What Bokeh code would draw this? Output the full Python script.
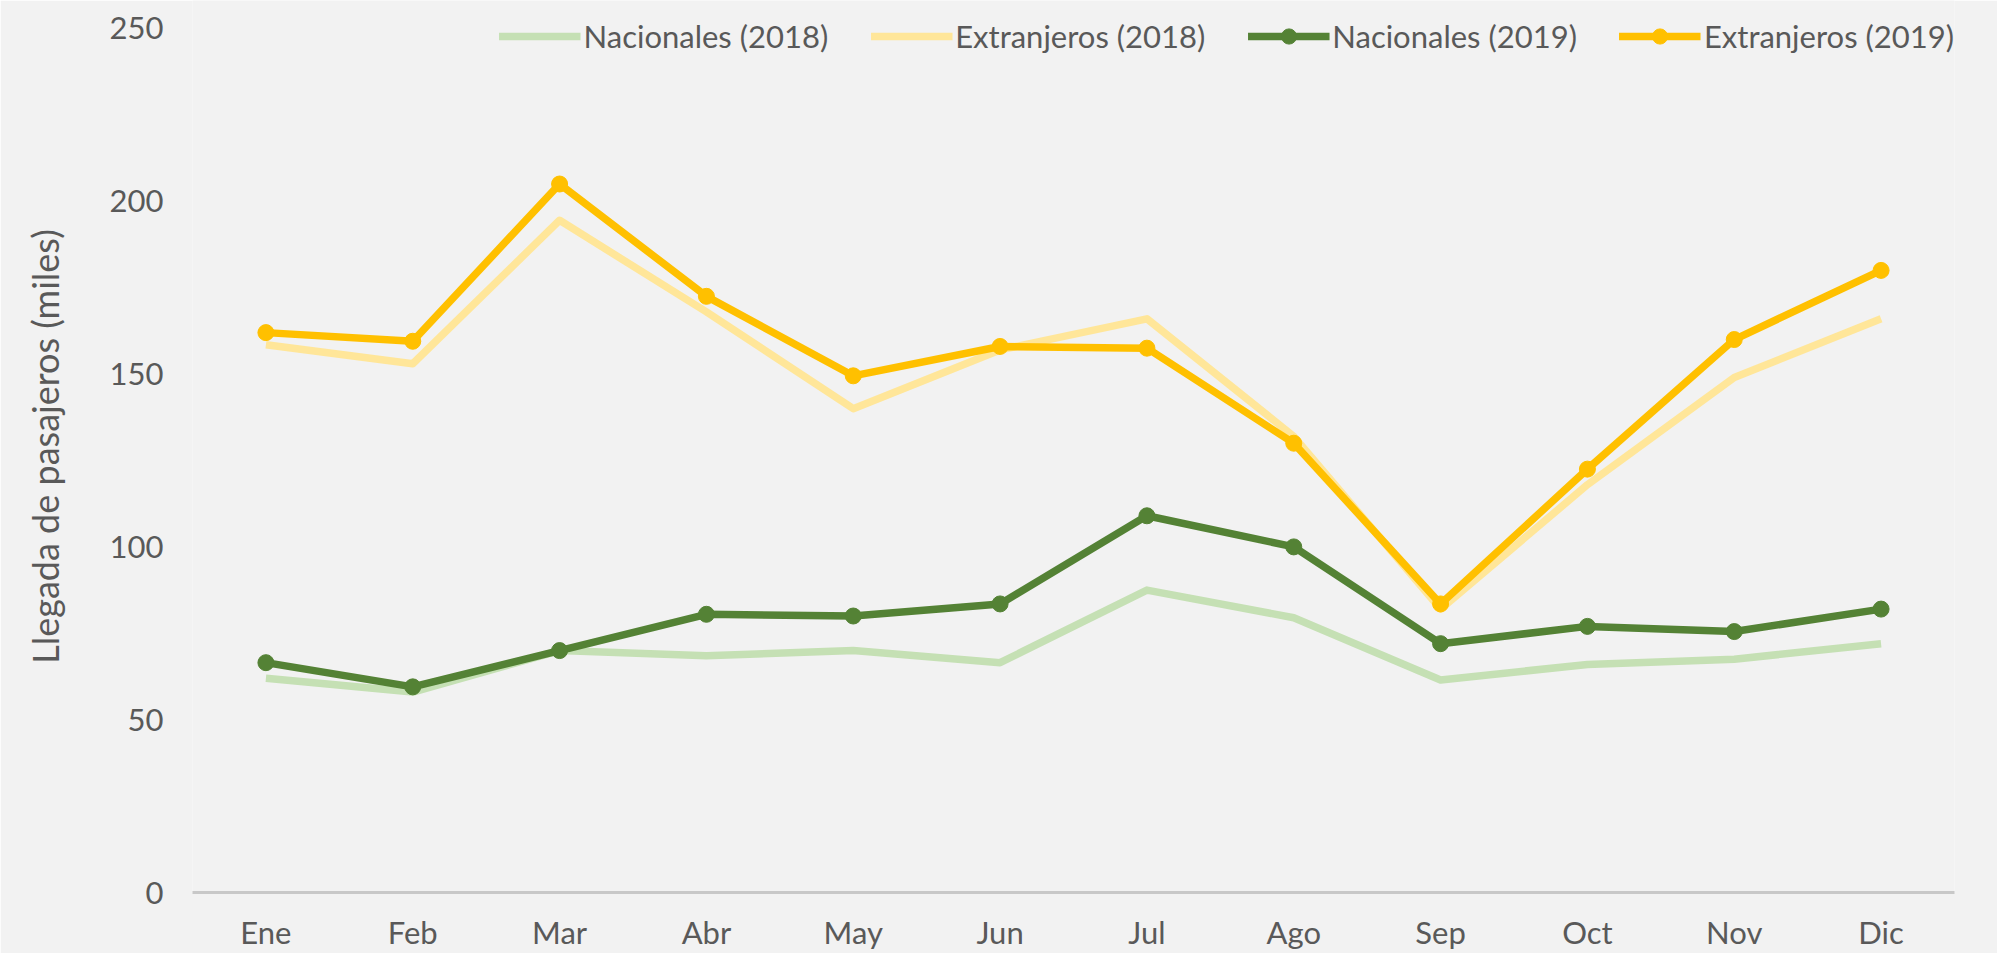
from bokeh.plotting import figure
from bokeh.models import FactorRange, Range1d, FixedTicker, Legend, LegendItem
from bokeh.embed import file_html
from bokeh.resources import INLINE

months = ["Ene", "Feb", "Mar", "Abr", "May", "Jun", "Jul", "Ago", "Sep", "Oct", "Nov", "Dic"]
nacionales_2018 = [62, 58, 70, 68.5, 70, 66.5, 87.5, 79.5, 61.5, 66, 67.5, 72]
extranjeros_2018 = [158.5, 153, 194.5, 168, 140, 157, 166, 132, 82, 118, 149, 166]
nacionales_2019 = [66.5, 59.5, 70, 80.5, 80, 83.5, 109, 100, 72, 77, 75.5, 82]
extranjeros_2019 = [162, 159.5, 205, 172.5, 149.5, 158, 157.5, 130, 83.5, 122.5, 160, 180]
y_ticks = [0, 50, 100, 150, 200, 250]

FONT = "Lato"
TXT = "#595959"
BG = "#F2F2F2"

p = figure(width=1997, height=953, x_range=FactorRange(*months, range_padding=0),
           y_range=Range1d(0, 258.1), output_backend="svg", toolbar_location=None,
           background_fill_color=BG, border_fill_color=BG,
           min_border_left=192, min_border_right=43, min_border_top=0, min_border_bottom=61)
p.outline_line_color = None
p.xgrid.grid_line_color = None
p.ygrid.grid_line_color = None

r1 = p.line(months, nacionales_2018, line_color="#C5E0B4", line_width=7.5, line_join="round")
r2 = p.line(months, extranjeros_2018, line_color="#FFE699", line_width=7.5, line_join="round")
r3 = p.line(months, nacionales_2019, line_color="#548235", line_width=7.5, line_join="round")
r3m = p.scatter(months, nacionales_2019, marker="circle", size=16, fill_color="#548235", line_color="#548235")
r4 = p.line(months, extranjeros_2019, line_color="#FFC000", line_width=7.5, line_join="round")
r4m = p.scatter(months, extranjeros_2019, marker="circle", size=16, fill_color="#FFC000", line_color="#FFC000")

legend = Legend(items=[
    LegendItem(label="Nacionales (2018)", renderers=[r1]),
    LegendItem(label="Extranjeros (2018)", renderers=[r2]),
    LegendItem(label="Nacionales (2019)", renderers=[r3, r3m]),
    LegendItem(label="Extranjeros (2019)", renderers=[r4, r4m]),
], orientation="horizontal", location="top_right")
legend.background_fill_alpha = 0
legend.border_line_color = None
legend.margin = 0
legend.padding = 0
legend.spacing = 42
legend.glyph_width = 82
legend.glyph_height = 38
legend.label_height = 72
legend.label_standoff = 3
legend.label_text_font = FONT
legend.label_text_font_size = "31px"
legend.label_text_color = TXT
p.add_layout(legend)

p.yaxis.ticker = FixedTicker(ticks=y_ticks)
p.yaxis.axis_line_color = None
p.yaxis.major_tick_line_color = None
p.yaxis.minor_tick_line_color = None
p.yaxis.major_tick_out = 0
p.yaxis.major_tick_in = 0
p.yaxis.minor_tick_out = 0
p.yaxis.major_label_standoff = 29
p.yaxis.major_label_text_font = FONT
p.yaxis.major_label_text_font_size = "31px"
p.yaxis.major_label_text_color = TXT
p.yaxis.axis_label = "Llegada de pasajeros (miles)"
p.yaxis.axis_label_text_font = FONT
p.yaxis.axis_label_text_font_size = "36px"
p.yaxis.axis_label_text_font_style = "normal"
p.yaxis.axis_label_text_color = TXT
p.yaxis.axis_label_standoff = 40

p.xaxis.axis_line_color = "#C8C8C8"
p.xaxis.axis_line_width = 3
p.xaxis.major_tick_line_color = None
p.xaxis.minor_tick_line_color = None
p.xaxis.major_tick_out = 0
p.xaxis.major_tick_in = 0
p.xaxis.minor_tick_out = 0
p.xaxis.major_label_standoff = 20
p.xaxis.major_label_text_font = FONT
p.xaxis.major_label_text_font_size = "31px"
p.xaxis.major_label_text_color = TXT

open("out.html", "w").write(file_html(p, INLINE))
